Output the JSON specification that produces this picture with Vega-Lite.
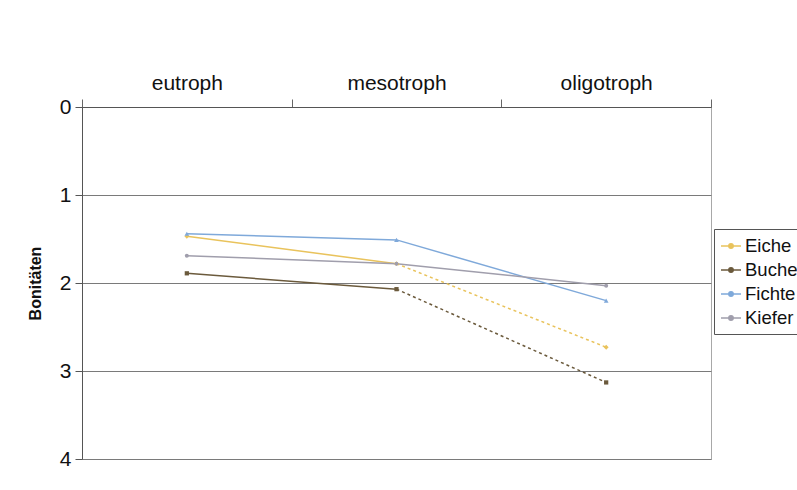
{
  "$schema": "https://vega.github.io/schema/vega-lite/v6.json",
  "width": 629,
  "height": 352,
  "autosize": {"type": "none"},
  "padding": {"left": 82, "top": 107, "right": 86, "bottom": 31},
  "background": "white",
  "config": {
    "view": {"stroke": "#a8a8a8", "strokeWidth": 1},
    "font": "Liberation Sans"
  },
  "data": {
    "values": [
      {"species": "Eiche", "cat": "eutroph", "v": 1.47},
      {"species": "Eiche", "cat": "mesotroph", "v": 1.78},
      {"species": "Eiche", "cat": "oligotroph", "v": 2.73},
      {"species": "Buche", "cat": "eutroph", "v": 1.89},
      {"species": "Buche", "cat": "mesotroph", "v": 2.07},
      {"species": "Buche", "cat": "oligotroph", "v": 3.13},
      {"species": "Fichte", "cat": "eutroph", "v": 1.44},
      {"species": "Fichte", "cat": "mesotroph", "v": 1.51},
      {"species": "Fichte", "cat": "oligotroph", "v": 2.2},
      {"species": "Kiefer", "cat": "eutroph", "v": 1.69},
      {"species": "Kiefer", "cat": "mesotroph", "v": 1.78},
      {"species": "Kiefer", "cat": "oligotroph", "v": 2.03}
    ]
  },
  "encoding": {
    "x": {
      "field": "cat",
      "type": "nominal",
      "sort": ["eutroph", "mesotroph", "oligotroph"],
      "scale": {"paddingInner": 0, "paddingOuter": 0},
      "axis": {
        "orient": "top",
        "title": null,
        "tickBand": "extent",
        "labelAngle": 0,
        "labelFont": "Liberation Sans",
        "labelFontSize": 21,
        "labelColor": "#111",
        "labelPadding": 6,
        "tickSize": 8,
        "tickColor": "#666",
        "domainColor": "#555",
        "grid": false
      }
    },
    "y": {
      "field": "v",
      "type": "quantitative",
      "scale": {"domain": [0, 4], "reverse": true, "nice": false, "zero": false},
      "axis": {
        "values": [0, 1, 2, 3, 4],
        "title": "Bonitäten",
        "titleFont": "Liberation Sans",
        "titleFontSize": 16,
        "titleFontWeight": "bold",
        "titleColor": "#111",
        "titlePadding": 16,
        "labelFont": "Liberation Sans",
        "labelFontSize": 21,
        "labelColor": "#111",
        "labelPadding": 4,
        "tickSize": 7,
        "tickColor": "#555",
        "domainColor": "#555",
        "grid": true,
        "gridColor": "#7a7a7a",
        "gridWidth": 1
      }
    },
    "color": {
      "field": "species",
      "type": "nominal",
      "scale": {
        "domain": ["Eiche", "Buche", "Fichte", "Kiefer"],
        "range": ["#E9C35C", "#6B5A3C", "#7FA9DA", "#A09EAC"]
      },
      "legend": null
    }
  },
  "layer": [
    {
      "transform": [{"filter": "(datum.species == 'Fichte' || datum.species == 'Kiefer') || datum.cat != 'oligotroph'"}],
      "mark": {"type": "line", "strokeWidth": 1.5},
      "encoding": {
        "color": {
          "field": "species",
          "type": "nominal",
          "legend": {
            "orient": "none",
            "legendX": 632,
            "legendY": 122,
            "title": null,
            "symbolType": "M-1,0H1M-0.22,0A0.22,0.22 0 1,0 0.22,0A0.22,0.22 0 1,0 -0.22,0",
            "symbolSize": 400,
            "symbolStrokeWidth": 1.5,
            "labelFont": "Liberation Sans",
            "labelFontSize": 18.5,
            "labelColor": "#111",
            "labelOffset": 3,
            "labelLimit": 200,
            "rowPadding": 3,
            "padding": 6,
            "strokeColor": "#555",
            "fillColor": "white"
          }
        }
      }
    },
    {
      "transform": [{"filter": "(datum.species == 'Eiche' || datum.species == 'Buche') && datum.cat != 'eutroph'"}],
      "mark": {"type": "line", "strokeWidth": 1.5, "strokeDash": [3, 3]},
      "encoding": {}
    },
    {
      "transform": [{"filter": "datum.species == 'Eiche'"}],
      "mark": {"type": "point", "filled": true, "size": 24, "opacity": 1, "shape": "diamond"},
      "encoding": {}
    },
    {
      "transform": [{"filter": "datum.species == 'Buche'"}],
      "mark": {"type": "point", "filled": true, "size": 18, "opacity": 1, "shape": "square"},
      "encoding": {}
    },
    {
      "transform": [{"filter": "datum.species == 'Fichte'"}],
      "mark": {"type": "point", "filled": true, "size": 22, "opacity": 1, "shape": "triangle-up"},
      "encoding": {}
    },
    {
      "transform": [{"filter": "datum.species == 'Kiefer'"}],
      "mark": {"type": "point", "filled": true, "size": 16, "opacity": 1, "shape": "circle"},
      "encoding": {}
    }
  ]
}
